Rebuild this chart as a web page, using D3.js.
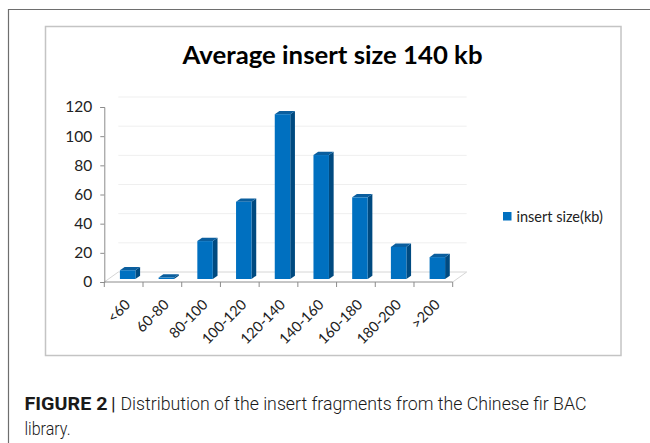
<!DOCTYPE html>
<html>
<head>
<meta charset="utf-8">
<script src="https://cdn.jsdelivr.net/npm/d3@7"></script>
<style>
  html, body { margin: 0; padding: 0; background: #fff; }
  svg { display: block; }
</style>
</head>
<body>
<svg id="fig" width="650" height="443"></svg>
<script>
// Insert size bins (kb) and number of BAC clones in each bin
const categories = ["<60", "60-80", "80-100", "100-120", "120-140", "140-160", "160-180", "180-200", ">200"];
const counts = [6, 1, 26, 53, 113, 85, 56, 22, 15];
const yTicks = [0, 20, 40, 60, 80, 100, 120];
const seriesName = "insert size(kb)";
const chartTitle = "Average insert size 140 kb";

const svg = d3.select("#fig");

// Page frame lines (left and top)
svg.append("path")
  .attr("d", "M8.5,443 V9.5 H650")
  .attr("fill", "none")
  .attr("stroke", "#6e6e6e")
  .attr("stroke-width", 1.2);

// Chart area border
svg.append("rect")
  .attr("x", 45.5).attr("y", 26.5)
  .attr("width", 575.5).attr("height", 329)
  .attr("fill", "#fff")
  .attr("stroke", "#c4c4c4")
  .attr("stroke-width", 1.5);

// Title
svg.append("text")
  .attr("x", 182.5).attr("y", 63.5)
  .attr("textLength", 300)
  .attr("lengthAdjust", "spacingAndGlyphs")
  .attr("font-family", "Lato, sans-serif")
  .attr("font-weight", "bold")
  .attr("font-size", 25)
  .attr("fill", "#000")
  .text(chartTitle);

// Scales on the front plane
const x = d3.scaleBand().domain(categories).range([104.3, 452.7]).padding(0);
const y = d3.scaleLinear().domain([0, 120]).range([282, 107]);

// Depth of the plot (back wall offset) and of each column
const depthX = 14, depthY = -10;
const barDX = 4.7, barDY = -3.3;
const barShiftX = 4, barShiftY = -3;
const barW = x.bandwidth() * 0.4;

const plot = svg.append("g");

// Back-wall gridlines
plot.selectAll("line.grid")
  .data(yTicks.filter(d => d > 0))
  .join("line")
  .attr("class", "grid")
  .attr("x1", x.range()[0] + depthX).attr("x2", x.range()[1] + depthX)
  .attr("y1", d => y(d) + depthY).attr("y2", d => y(d) + depthY)
  .attr("stroke", "#efefef")
  .attr("stroke-width", 1);

// Floor
const x0 = x.range()[0], x1 = x.range()[1], yf = y(0);
plot.append("path")
  .attr("d", `M${x0},${yf} L${x0 + depthX},${yf + depthY} L${x1 + depthX},${yf + depthY} L${x1},${yf}`)
  .attr("fill", "none")
  .attr("stroke", "#d6d6d6")
  .attr("stroke-width", 1);

// Y axis
const yAxis = d3.axisLeft(y).tickValues(yTicks).tickSize(4).tickPadding(8);
const gy = plot.append("g").attr("transform", `translate(${x0},0)`).call(yAxis);
gy.select(".domain").attr("stroke", "#8c8c8c");
gy.selectAll(".tick line").attr("stroke", "#8c8c8c");
gy.selectAll(".tick text")
  .attr("font-family", "Lato, sans-serif")
  .attr("font-size", 15.5)
  .attr("fill", "#222");

// X axis with ticks at category boundaries
const gx = plot.append("g").attr("transform", `translate(0,${yf})`);
gx.append("line")
  .attr("x1", x0).attr("x2", x1)
  .attr("stroke", "#8c8c8c");
const bounds = categories.map(c => x(c)).concat([x1]);
gx.selectAll("line.tk")
  .data(bounds)
  .join("line")
  .attr("class", "tk")
  .attr("x1", d => d).attr("x2", d => d)
  .attr("y1", 0).attr("y2", 5)
  .attr("stroke", "#8c8c8c");
gx.selectAll("text")
  .data(categories)
  .join("text")
  .attr("transform", d => `translate(${x(d) + x.bandwidth() / 2 + 4},${20}) rotate(-45)`)
  .attr("text-anchor", "end")
  .attr("dy", "0.35em")
  .attr("font-family", "Lato, sans-serif")
  .attr("font-size", 14.5)
  .attr("fill", "#222")
  .text(d => d);

// 3D columns
const frontColor = "#0070c0", sideColor = "#004a80", topColor = "#0a5e9e";
const bars = plot.selectAll("g.bar")
  .data(categories.map((c, i) => ({ c, v: counts[i] })))
  .join("g")
  .attr("class", "bar");

bars.each(function (d) {
  const g = d3.select(this);
  const fx0 = x(d.c) + x.bandwidth() / 2 - barW / 2 + barShiftX;
  const fx1 = fx0 + barW;
  const fy0 = y(d.v) + barShiftY, fy1 = y(0) + barShiftY;
  // side face
  g.append("path")
    .attr("d", `M${fx1},${fy1} L${fx1 + barDX},${fy1 + barDY} L${fx1 + barDX},${fy0 + barDY} L${fx1},${fy0} Z`)
    .attr("fill", sideColor);
  // top face
  g.append("path")
    .attr("d", `M${fx0},${fy0} L${fx0 + barDX},${fy0 + barDY} L${fx1 + barDX},${fy0 + barDY} L${fx1},${fy0} Z`)
    .attr("fill", topColor);
  // front face
  g.append("rect")
    .attr("x", fx0).attr("y", fy0)
    .attr("width", barW).attr("height", Math.max(0, fy1 - fy0))
    .attr("fill", frontColor);
});

// Legend
const lg = svg.append("g").attr("transform", "translate(503,212)");
lg.append("rect").attr("width", 8.5).attr("height", 8.5).attr("fill", frontColor);
lg.append("text")
  .attr("x", 13.5).attr("y", 4.5)
  .attr("dy", "0.35em")
  .attr("font-family", "Lato, sans-serif")
  .attr("font-size", 14.5)
  .attr("fill", "#222")
  .text(seriesName);

// Figure caption
const cap = svg.append("g")
  .attr("font-family", "Roboto, 'Liberation Sans', sans-serif")
  .attr("font-size", 19)
  .attr("fill", "#1a1a1a");
cap.append("text")
  .attr("x", 24.5).attr("y", 410)
  .attr("font-weight", "bold")
  .attr("textLength", 83)
  .attr("lengthAdjust", "spacingAndGlyphs")
  .text("FIGURE 2");
cap.append("text")
  .attr("x", 111).attr("y", 410)
  .text("|");
cap.append("text")
  .attr("x", 120.5).attr("y", 410)
  .attr("font-weight", 300)
  .attr("textLength", 466)
  .attr("lengthAdjust", "spacingAndGlyphs")
  .text("Distribution of the insert fragments from the Chinese fir BAC");
cap.append("text")
  .attr("x", 24.5).attr("y", 435)
  .attr("font-weight", 300)
  .attr("textLength", 46)
  .attr("lengthAdjust", "spacingAndGlyphs")
  .text("library.");
</script>
</body>
</html>
